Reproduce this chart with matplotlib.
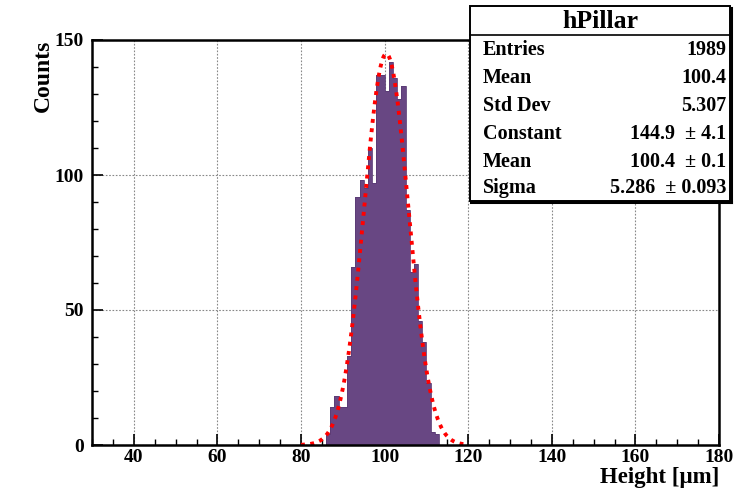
import numpy as np
import matplotlib
matplotlib.use("Agg")
import matplotlib.pyplot as plt
from matplotlib.patches import Rectangle
from matplotlib.lines import Line2D
from matplotlib.ticker import MultipleLocator

# histogram: 1 um bins from 30 to 180, filled bins start at 86
x_min, x_max = 30, 180
first_bin = 86
counts_filled = [4, 14, 18, 14, 14, 33, 66, 92, 98, 95, 110, 97, 137, 137,
                 131, 142, 136, 128, 133, 87, 64, 67, 46, 38, 23, 5, 4]

# gaussian fit result
fit_const = 144.9
fit_mean = 100.4
fit_sigma = 5.286
fit_range = (80, 120)

stat_labels = ["Entries", "Mean", "Std Dev", "Constant", "Mean", "Sigma"]
stat_values = ["1989", "100.4", "5.307", "144.9  \u00b1 4.1", "100.4  \u00b1 0.1",
               "5.286  \u00b1 0.093"]

plt.rcParams['font.family'] = ['Liberation Serif', 'DejaVu Serif']
plt.rcParams['font.weight'] = 'bold'

fig = plt.figure(figsize=(7.35, 4.9), dpi=100)
ax = fig.add_axes([92 / 735, 45 / 490, 627 / 735, 405 / 490])

edges = np.arange(x_min, x_max + 1)
counts = np.zeros(len(edges) - 1)
counts[first_bin - x_min:first_bin - x_min + len(counts_filled)] = counts_filled

ax.stairs(counts, edges, fill=True, color='#684783', zorder=2)
ax.stairs(counts, edges, fill=False, color='#5a3c75', lw=0.6, zorder=3)

xs = np.linspace(fit_range[0], fit_range[1], 400)
ys = fit_const * np.exp(-0.5 * ((xs - fit_mean) / fit_sigma) ** 2)
ax.plot(xs, ys, color='red', lw=2.8, linestyle=(0, (1, 1.4)), zorder=4)

ax.set_xlim(x_min, x_max)
ax.set_ylim(0, 150)
ax.xaxis.set_major_locator(MultipleLocator(20))
ax.xaxis.set_minor_locator(MultipleLocator(5))
ax.yaxis.set_major_locator(MultipleLocator(50))
ax.yaxis.set_minor_locator(MultipleLocator(10))
ax.tick_params(which='major', direction='in', length=8, width=1.2, labelsize=14,
               top=False, right=False, pad=6)
ax.tick_params(axis='x', which='major', pad=3)
ax.tick_params(which='minor', direction='in', length=4, width=1.0,
               top=False, right=False)
ax.grid(True, which='major', color='#888888', linestyle=(0, (1.5, 1.5)), lw=0.8, zorder=1)
for s in ax.spines.values():
    s.set_linewidth(1.8)
    s.set_zorder(5)

ax.set_xlabel("Height [\u03bcm]", fontsize=16.5, fontweight='bold')
ax.xaxis.set_label_coords(1.0, -0.094)
ax.xaxis.label.set_horizontalalignment('right')
ax.xaxis.label.set_verticalalignment('baseline')
ax.set_ylabel("Counts", fontsize=17, fontweight='bold')
ax.yaxis.set_label_coords(-0.095, 1.0)
ax.yaxis.label.set_verticalalignment('top')
ax.yaxis.label.set_horizontalalignment('right')

# stat box
bx0, bx1 = 470 / 735, 730 / 735
by_top, by_bot = 1 - 6 / 490, 1 - 201 / 490
fig.patches.append(Rectangle((bx0, by_bot), bx1 - bx0, by_top - by_bot,
                             transform=fig.transFigure, facecolor='white',
                             edgecolor='black', lw=1.4, zorder=10))
fig.lines.append(Line2D([bx0 + 0.002, bx1 + 0.002], [by_bot - 0.003, by_bot - 0.003],
                        transform=fig.transFigure, color='black', lw=2.2, zorder=10))
fig.lines.append(Line2D([bx1 + 0.002, bx1 + 0.002], [by_bot - 0.003, by_top - 0.004],
                        transform=fig.transFigure, color='black', lw=2.2, zorder=10))
sep_y = 1 - 35 / 490
fig.lines.append(Line2D([bx0, bx1], [sep_y, sep_y], transform=fig.transFigure,
                        color='black', lw=1.2, zorder=11))
fig.text((bx0 + bx1) / 2, 1 - 22 / 490, "hPillar", ha='center', va='center',
         fontsize=18.5, fontweight='bold', zorder=12)
row_y = [50, 78, 106, 134, 162, 188]
for lab, val, yy in zip(stat_labels, stat_values, row_y):
    fig.text(483 / 735, 1 - yy / 490, lab, ha='left', va='center',
             fontsize=14.5, fontweight='bold', zorder=12)
    fig.text(726 / 735, 1 - yy / 490, val, ha='right', va='center',
             fontsize=14.5, fontweight='bold', zorder=12)

fig.savefig("out.png", dpi=100)
